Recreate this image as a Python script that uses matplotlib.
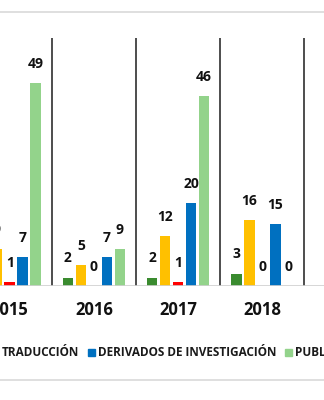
import numpy as np
import matplotlib
matplotlib.use("Agg")
import matplotlib.pyplot as plt
from matplotlib.patches import Rectangle, Patch

plt.rcParams['font.family'] = ['Open Sans', 'DejaVu Sans']

# Data (2015 dark green is outside the visible crop, guessed)
years = ['2015', '2016', '2017', '2018']
series = ['LIBROS', 'ARTÍCULOS', 'TRADUCCIÓN', 'DERIVADOS DE INVESTIGACIÓN', 'PUBLICACIONES']
libros = [4, 2, 2, 3]
articulos = [9, 5, 12, 16]
traduccion = [1, 0, 1, 0]
derivados = [7, 7, 20, 15]
publicaciones = [49, 9, 46, 0]
colors = ['#3a8b2f', '#ffc000', '#ff0000', '#0070c0', '#93d38b']

values = [libros, articulos, traduccion, derivados, publicaciones]

W, H = 324, 400
fig = plt.figure(figsize=(W / 100, H / 100), dpi=100)

# chart area border (the chart continues beyond the crop)
fig.add_artist(Rectangle((-50 / W, 20 / H), 424 / W, 368 / H, transform=fig.transFigure,
                         facecolor='none', edgecolor='#d9d9d9', lw=1.2, clip_on=False))

# plot area: group spacing ~84 px, 2015 centred at ~10 px
gap = 84.2
left = 9.7 - 0.5 * gap
ax = fig.add_axes([left / W, 114 / H, 5 * gap / W, 248 / H])
ax.set_xlim(-0.5, 4.5)
ax.set_ylim(0, 60)

x = np.arange(len(years))
step = 13 / gap
width = 10.5 / gap
for k, (vals, col) in enumerate(zip(values, colors)):
    pos = x + (k - 2) * step
    ax.bar(pos, vals, width=width, color=col, label=series[k])
    for xp, v in zip(pos, vals):
        ax.annotate(str(v), (xp, v), xytext=(0, 11), textcoords='offset points',
                    ha='center', va='baseline', fontsize=10, fontweight='bold',
                    color='#111111')

ax.vlines(x + 0.5, 0, 60, color='#3f3f3f', lw=1.3)
ax.axhline(0, color='#d0d0d0', lw=1.2)
for s in ax.spines.values():
    s.set_visible(False)
ax.set_yticks([])
ax.set_xticks(x)
ax.set_xticklabels(years, fontsize=12, fontweight='bold', color='#111111')
ax.tick_params(axis='x', length=0, pad=11)

handles = [Patch(color=c) for c in colors]
leg = fig.legend(handles, series, ncol=5, loc='center left',
                 bbox_to_anchor=(0, 1 - 353 / H), frameon=False,
                 prop={'size': 8.5, 'weight': 'bold'}, handlelength=0.55,
                 handleheight=0.55, handletextpad=0.3, columnspacing=0.75)
for t in leg.get_texts():
    t.set_color('#1a1a1a')

# shift the legend so that "TRADUCCIÓN" starts where it does in the crop
fig.canvas.draw()
r = fig.canvas.get_renderer()
tx = leg.get_texts()[2].get_window_extent(r).x0
leg.set_bbox_to_anchor(((2 - tx) / W, 1 - 353 / H), transform=fig.transFigure)

fig.savefig('out.png', dpi=100)
